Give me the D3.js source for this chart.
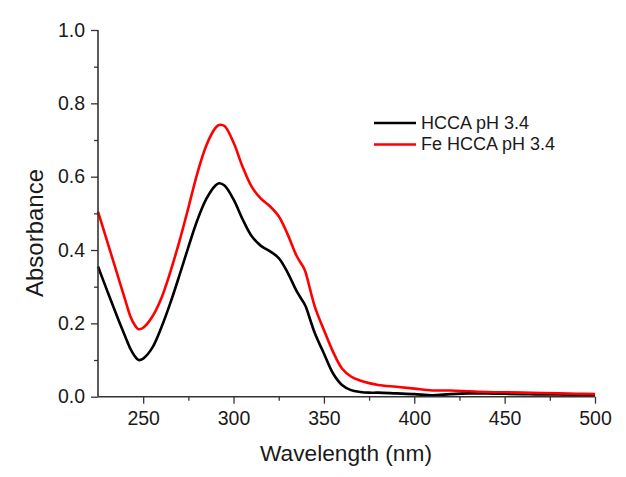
<!DOCTYPE html>
<html>
<head>
<meta charset="utf-8">
<script src="https://cdn.jsdelivr.net/npm/d3@7"></script>
<style>
  html, body { margin: 0; padding: 0; background: #ffffff; }
  svg { display: block; font-family: Arial, "Liberation Sans", sans-serif; }
</style>
</head>
<body>
<svg id="chart" width="626" height="477"></svg>
<script>
// ---- Data ----
const wavelengths = [225, 230, 235, 240, 243, 245, 247.5, 250, 255, 260, 265, 270, 275, 280, 285, 290, 292,
  295, 300, 305, 310, 315, 320, 325, 330, 335, 339, 340, 345, 350, 355, 360, 365, 370, 375, 380,
  390, 400, 410, 420, 430, 440, 450, 460, 470, 480, 490, 500];

const hccaValues = [0.355, 0.290, 0.226, 0.165, 0.130, 0.113, 0.100, 0.104, 0.133, 0.188, 0.255, 0.330, 0.408, 0.482, 0.540, 0.576, 0.582,
  0.576, 0.538, 0.484, 0.438, 0.412, 0.397, 0.378, 0.338, 0.287, 0.255, 0.245, 0.173, 0.118, 0.064, 0.032, 0.018, 0.013, 0.011, 0.011,
  0.009, 0.007, 0.004, 0.007, 0.009, 0.009, 0.008, 0.007, 0.006, 0.006, 0.005, 0.005];

const feHccaValues = [0.505, 0.425, 0.345, 0.265, 0.218, 0.198, 0.184, 0.188, 0.218, 0.268, 0.340, 0.423, 0.515, 0.610, 0.686, 0.733, 0.741,
  0.738, 0.693, 0.627, 0.573, 0.541, 0.520, 0.492, 0.442, 0.383, 0.350, 0.337, 0.245, 0.182, 0.123, 0.077, 0.055, 0.044, 0.037, 0.032,
  0.027, 0.022, 0.017, 0.017, 0.015, 0.013, 0.012, 0.011, 0.010, 0.009, 0.008, 0.007];

const seriesNames = ["HCCA pH 3.4", "Fe HCCA pH 3.4"];
const seriesColors = ["#000000", "#ff0000"];
const xTicks = [250, 300, 350, 400, 450, 500];
const xMinorTicks = [275, 325, 375, 425, 475];
const yTicks = [0.0, 0.2, 0.4, 0.6, 0.8, 1.0];
const yMinorTicks = [0.1, 0.3, 0.5, 0.7, 0.9];
const xTitle = "Wavelength (nm)";
const yTitle = "Absorbance";

// ---- Layout ----
const svg = d3.select("#chart");
const mLeft = 98, mRight = 595, mTop = 30, mBottom = 396.7;

const x = d3.scaleLinear().domain([225, 500]).range([mLeft, mRight]);
const y = d3.scaleLinear().domain([0, 1]).range([mBottom, mTop]);

const axisColor = "#333333";
const textColor = "#1a1a1a";

// ---- Series ----
const seriesData = [hccaValues, feHccaValues];
const line = d3.line()
  .x(d => x(d[0]))
  .y(d => y(d[1]))
  .curve(d3.curveCatmullRom.alpha(0.5));

seriesData.forEach((vals, i) => {
  const pts = wavelengths.map((w, j) => [w, vals[j]]);
  svg.append("path")
    .datum(pts)
    .attr("fill", "none")
    .attr("stroke", seriesColors[i])
    .attr("stroke-width", 2.6)
    .attr("stroke-linejoin", "round")
    .attr("d", line);
});

// ---- Axes ----
const xAxis = d3.axisBottom(x).tickValues(xTicks).tickSize(7).tickPadding(7).tickFormat(d3.format("d"));
const xAxisMinor = d3.axisBottom(x).tickValues(xMinorTicks).tickSize(4).tickFormat("");
const yAxis = d3.axisLeft(y).tickValues(yTicks).tickSize(7).tickPadding(6).tickFormat(d3.format(".1f"));
const yAxisMinor = d3.axisLeft(y).tickValues(yMinorTicks).tickSize(4).tickFormat("");

function styleAxis(g) {
  g.selectAll("path").attr("stroke", axisColor).attr("stroke-width", 1.6);
  g.selectAll("line").attr("stroke", axisColor).attr("stroke-width", 1.3);
  g.selectAll("text").attr("fill", textColor).style("font-size", "19.5px")
    .style("font-family", "Arial, 'Liberation Sans', sans-serif");
}

svg.append("g").attr("transform", `translate(0,${mBottom})`).call(xAxisMinor).call(styleAxis)
  .select(".domain").remove();
svg.append("g").attr("transform", `translate(${mLeft},0)`).call(yAxisMinor).call(styleAxis)
  .select(".domain").remove();

const gx = svg.append("g").attr("transform", `translate(0,${mBottom})`).call(xAxis).call(styleAxis);
gx.select(".domain").attr("d", `M${mLeft},0H${mRight}`);
const gy = svg.append("g").attr("transform", `translate(${mLeft},0)`).call(yAxis).call(styleAxis);
gy.select(".domain").attr("d", `M0,${mTop}V${mBottom}`);

// ---- Axis titles ----
svg.append("text")
  .attr("x", 346)
  .attr("y", 461)
  .attr("text-anchor", "middle")
  .attr("fill", textColor)
  .style("font-size", "22.7px")
  .text(xTitle);

svg.append("text")
  .attr("transform", `translate(43,233) rotate(-90)`)
  .attr("text-anchor", "middle")
  .attr("fill", textColor)
  .style("font-size", "24px")
  .text(yTitle);

// ---- Legend ----
const legend = svg.append("g");
seriesNames.forEach((name, i) => {
  const ly = 123 + i * 21.5;
  legend.append("line")
    .attr("x1", 374).attr("x2", 416)
    .attr("y1", ly).attr("y2", ly)
    .attr("stroke", seriesColors[i])
    .attr("stroke-width", 2.6);
  legend.append("text")
    .attr("x", 421)
    .attr("y", ly + 5.8)
    .attr("fill", textColor)
    .style("font-size", "18px")
    .text(name);
});
</script>
</body>
</html>
